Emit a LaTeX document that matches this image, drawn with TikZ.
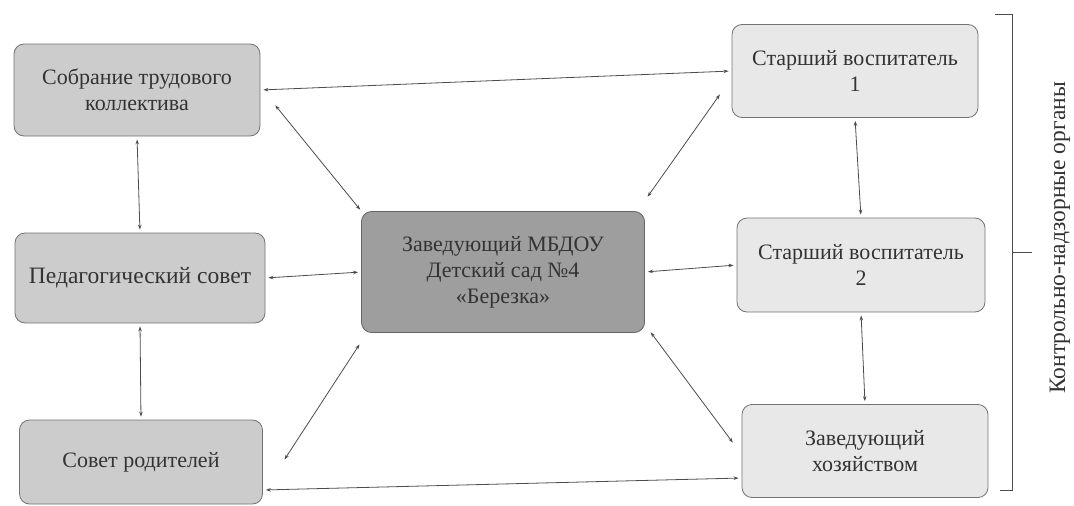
\documentclass[tikz,border=0pt]{standalone}
\usepackage{fontspec}
\setmainfont{Liberation Serif}
\usetikzlibrary{arrows.meta}

\begin{document}
\begin{tikzpicture}[x=1pt,y=-1pt]
	\useasboundingbox (0,0) rectangle (1074,506);
	\tikzstyle{BoxStyle}=[draw=black!55,rounded corners=10pt,align=center,text=black!80,font=\rmfamily\fontsize{22}{26}\selectfont,line width=0.8pt]
	\tikzstyle{LeftStyle}=[BoxStyle,fill=black!20]
	\tikzstyle{RightStyle}=[BoxStyle,fill=black!9]
	\tikzstyle{MainStyle}=[BoxStyle,fill=black!38,draw=black!60]
	\tikzstyle{LinkStyle}=[black!70,line width=0.8pt,{Stealth[length=5pt,width=3.5pt]}-{Stealth[length=5pt,width=3.5pt]},shorten <=3pt,shorten >=3pt]
	\node[LeftStyle,minimum width=246,minimum height=92] (sobr) at (137,90) {Собрание трудового\\коллектива};
	\node[LeftStyle,minimum width=250,minimum height=90,font=\rmfamily\fontsize{23.5}{26}\selectfont] (ped) at (140,278) {Педагогический совет};
	\node[LeftStyle,minimum width=243,minimum height=84] (rod) at (141,462) {Совет родителей};
	\node[MainStyle,minimum width=283,minimum height=121] (zav) at (503,272) {Заведующий МБДОУ\\Детский сад №4\\«Березка»};
	\node[RightStyle,minimum width=246,minimum height=93] (st1) at (855,71) {Старший воспитатель\\1};
	\node[RightStyle,minimum width=248,minimum height=94] (st2) at (861,265) {Старший воспитатель\\2};
	\node[RightStyle,minimum width=246,minimum height=93] (hoz) at (865,451) {Заведующий\\хозяйством};
	\draw[LinkStyle] (sobr.east) -- (st1.west);
	\draw[LinkStyle] ([shift={(13,13)}]sobr.east) -- ([shift={(1,1)}]zav.north west);
	\draw[LinkStyle] (sobr.south) -- (ped.north);
	\draw[LinkStyle] (ped.east) -- (zav.west);
	\draw[LinkStyle] (ped.south) -- (rod.north);
	\draw[LinkStyle] ([shift={(20,0)}]rod.east) -- ([shift={(0,9)}]zav.south west);
	\draw[LinkStyle] ([shift={(0,28)}]rod.east) -- ([shift={(0,27)}]hoz.west);
	\draw[LinkStyle] ([shift={(1,-12)}]zav.north east) -- ([shift={(-10,21)}]st1.west);
	\draw[LinkStyle] (zav.east) -- (st2.west);
	\draw[LinkStyle] ([shift={(4,-3)}]zav.south east) -- ([shift={(-7,-6)}]hoz.west);
	\draw[LinkStyle] (st1.south) -- (st2.north);
	\draw[LinkStyle] (st2.south) -- (hoz.north);
	% bracket
	\coordinate (btop) at (1012,14);
	\coordinate (bbot) at (1012,490);
	\coordinate (bmid) at (1012,252);
	\draw[black!70,line width=0.8pt] ([xshift=-17pt]btop) -- (btop) -- (bbot) -- ([xshift=-12pt]bbot);
	\draw[black!70,line width=0.8pt] (bmid) -- ([xshift=20pt]bmid);
	\node[rotate=90,text=black!80,font=\rmfamily\fontsize{23.5}{26}\selectfont] (org) at (1060,238) {Контрольно-надзорные органы};
\end{tikzpicture}
\end{document}
